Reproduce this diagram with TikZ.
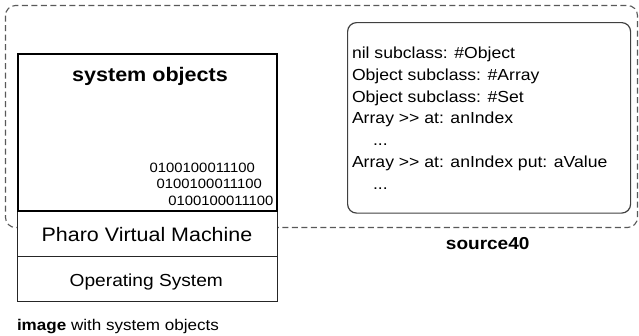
\documentclass[tikz,border=0pt]{standalone}
\usepackage{fontspec}
\setmainfont[FakeStretch=1.1]{Liberation Sans}
\begin{document}
\begin{tikzpicture}[x=1pt,y=-1pt,
  txt/.style={inner sep=0pt, outer sep=0pt, text=black},
  layer/.style={draw=black!85, line width=1pt, fill=white, inner sep=0pt, outer sep=0pt, anchor=north west, minimum width=259.5pt},
  codefont/.style={font=\fontsize{16}{19}\selectfont}
]
\useasboundingbox (0,0) rectangle (639,335);
% dashed region
\draw[black!65, line width=1.1pt, dash pattern=on 6pt off 3.5pt, rounded corners=10pt]
  (5.5,5.5) rectangle (637.5,227.5);
% stack
\node[layer, line width=2pt, minimum height=157.5pt] (so) at (17.5,53.5) {};
\node[layer, minimum height=45pt] (vm) at (17.5,211) {};
\node[layer, minimum height=45pt] (os) at (17.5,256) {};
\draw[black, line width=2pt] (so.north west) rectangle (so.south east);
% texts in stack
\node[txt, anchor=base, font=\bfseries\fontsize{19.6}{23}\selectfont] (sot) at (150,81.7) {system objects};
\node[txt, anchor=base west, font=\fontsize{13.5}{16}\selectfont] (b1) at (149.7,172.3) {0100100011100};
\node[txt, anchor=base west, font=\fontsize{13.5}{16}\selectfont] (b2) at (156.7,188.3) {0100100011100};
\node[txt, anchor=base west, font=\fontsize{13.5}{16}\selectfont] (b3) at (168.3,205.7) {0100100011100};
\node[txt, anchor=base, font=\fontsize{19.5}{23}\selectfont] (vmt) at (147,241.7) {Pharo Virtual Machine};
\node[txt, anchor=base, font=\fontsize{17.4}{21}\selectfont] (ost) at (146.3,286) {Operating System};
\node[txt, anchor=base west, font=\fontsize{15.5}{19}\selectfont] (img) at (17,330) {\textbf{image} with system objects};
% source box
\node[draw=black!75, line width=1.2pt, rounded corners=9pt, anchor=north west, inner sep=0pt,
  minimum width=283pt, minimum height=190.5pt] (src) at (347,22) {};
\node[txt, codefont, anchor=base west] (l1) at (352,58.5) {nil subclass: \#Object};
\node[txt, codefont, anchor=base west] (l2) at (352,80.25) {Object subclass: \#Array};
\node[txt, codefont, anchor=base west] (l3) at (352,102) {Object subclass: \#Set};
\node[txt, codefont, anchor=base west] (l4) at (352,123.75) {Array >{}> at: anIndex};
\node[txt, codefont, anchor=base west] (l5) at (373,145.5) {...};
\node[txt, codefont, anchor=base west] (l6) at (352,167.25) {Array >{}> at: anIndex put: aValue};
\node[txt, codefont, anchor=base west] (l7) at (373,189) {...};
\node[txt, anchor=base, font=\bfseries\fontsize{17.3}{21}\selectfont] (srct) at (487.7,249) {source40};
\end{tikzpicture}
\end{document}
